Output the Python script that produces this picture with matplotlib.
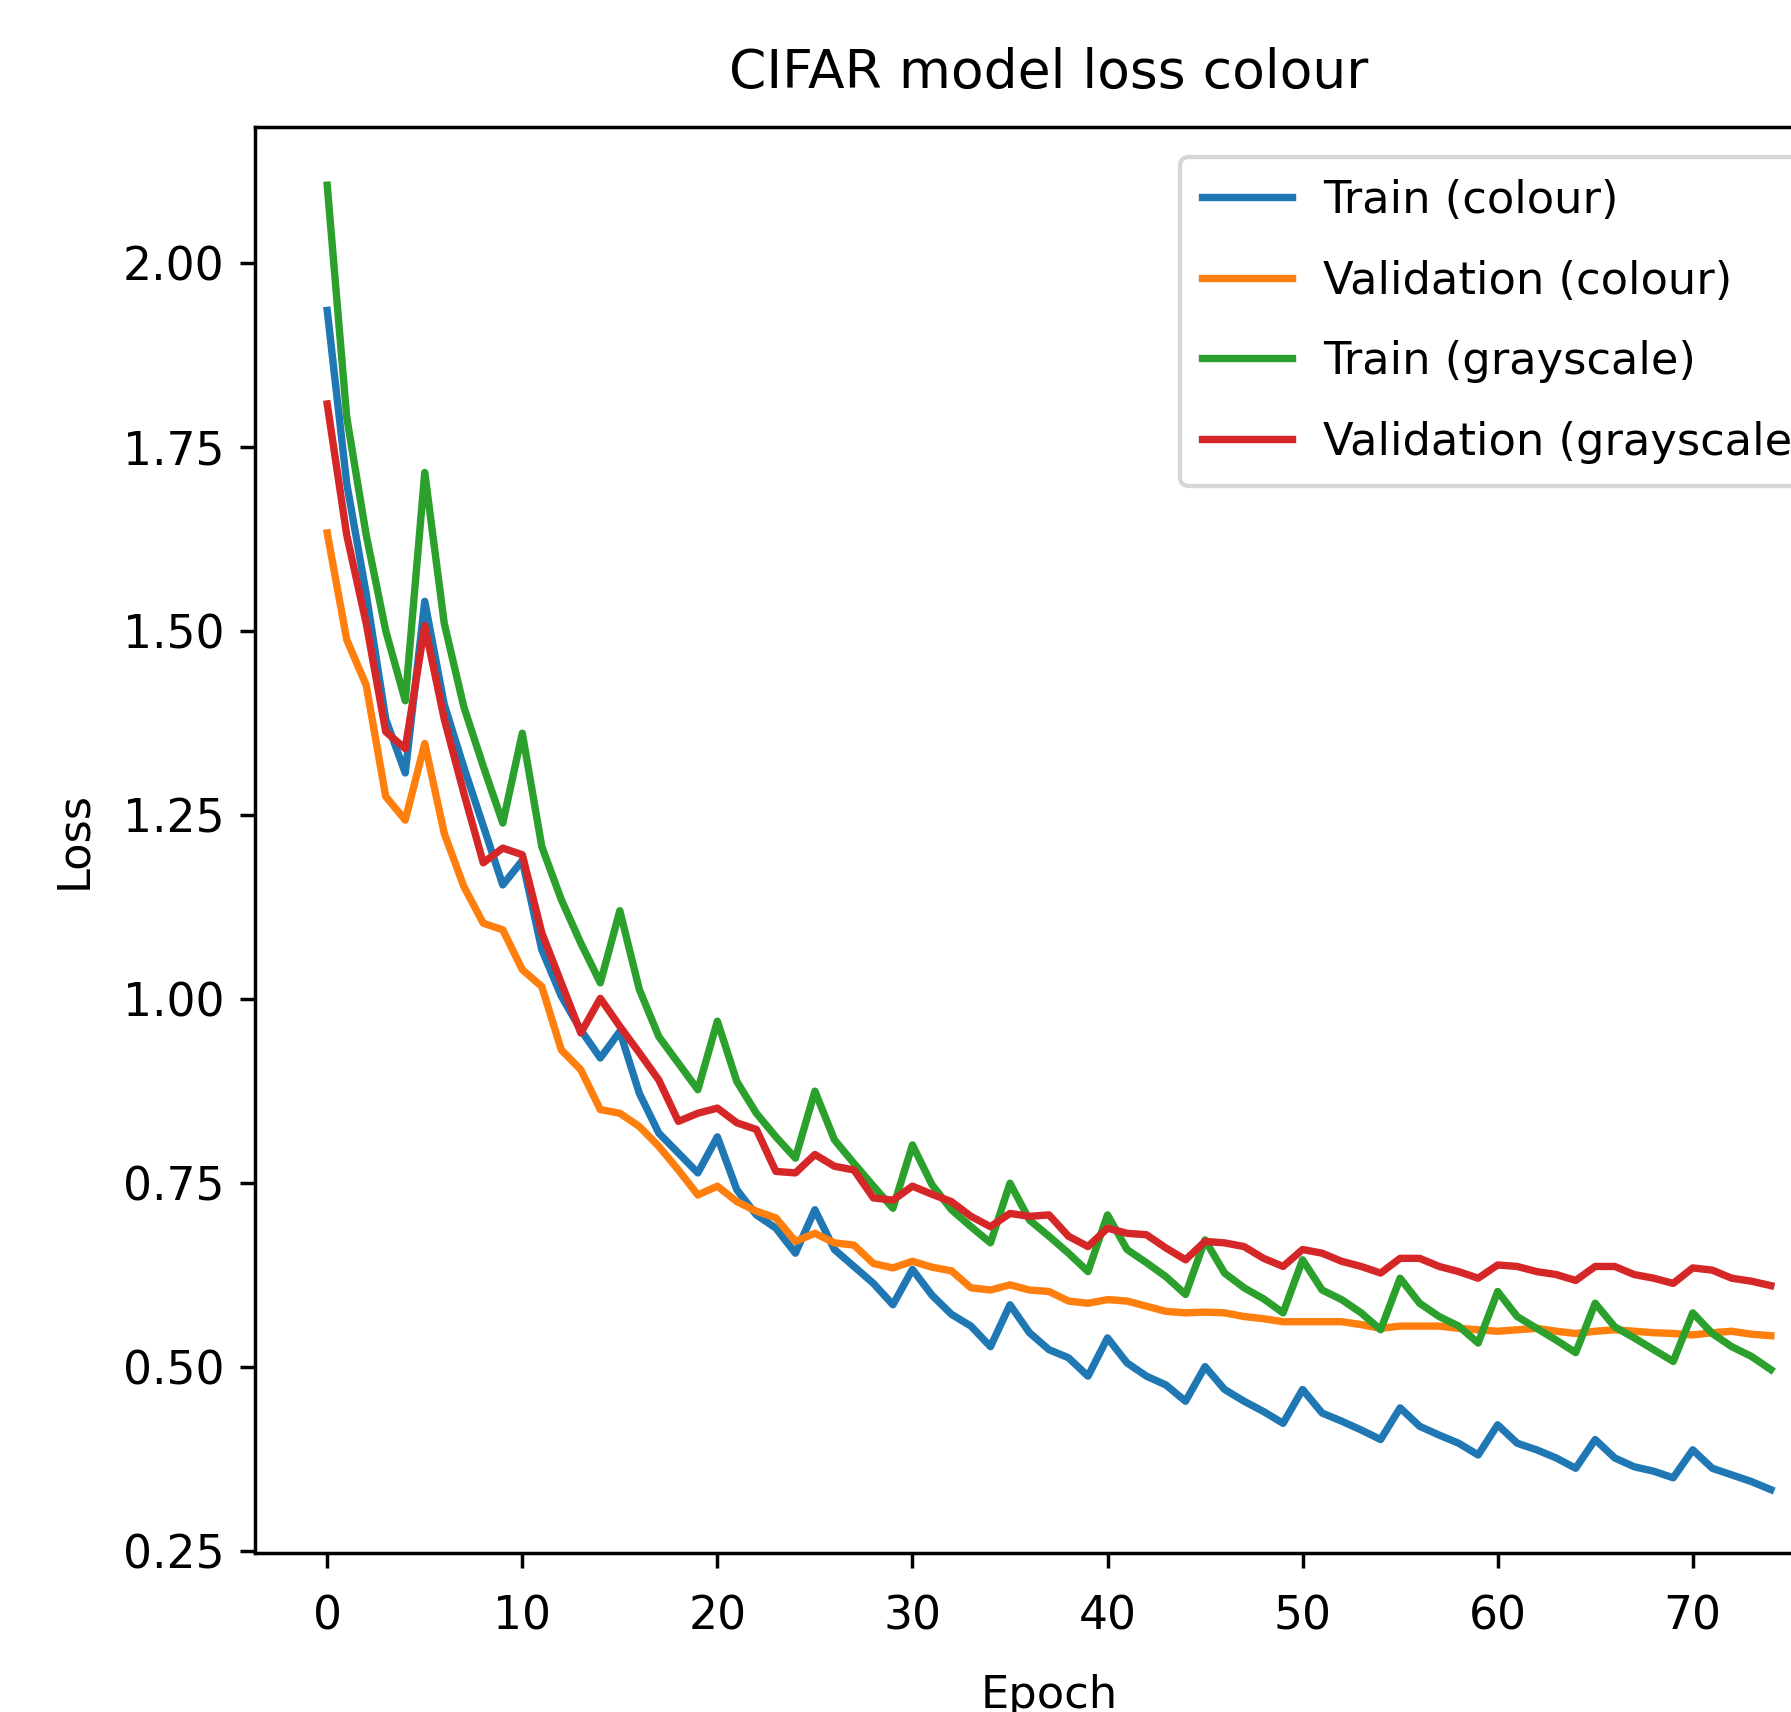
import matplotlib
matplotlib.use("Agg")
import matplotlib.pyplot as plt

# loss per epoch
epochs = list(range(75))

train_colour = [
    1.935, 1.70, 1.55, 1.38, 1.307, 1.54, 1.40, 1.315, 1.235, 1.155,
    1.188, 1.067, 1.004, 0.958, 0.920, 0.956,
    0.872, 0.818, 0.791, 0.764, 0.813, 0.741, 0.707, 0.689, 0.655, 0.714,
    0.660, 0.637, 0.614, 0.585, 0.633,
    0.598, 0.572, 0.556, 0.528, 0.585, 0.547, 0.524, 0.513, 0.488, 0.540,
    0.506, 0.488, 0.476, 0.454, 0.501, 0.470, 0.454,
    0.440, 0.424, 0.470, 0.438, 0.427, 0.415, 0.402, 0.445, 0.420, 0.408,
    0.397, 0.381, 0.422, 0.397, 0.388, 0.377,
    0.363, 0.402, 0.377, 0.365, 0.359, 0.350, 0.388, 0.363, 0.354, 0.345, 0.334,
]

val_colour = [
    1.633, 1.488, 1.426, 1.275, 1.243, 1.347, 1.225, 1.153, 1.103, 1.094,
    1.040, 1.017, 0.931, 0.904, 0.850, 0.845,
    0.827, 0.800, 0.768, 0.734, 0.746, 0.725, 0.712, 0.703, 0.671, 0.682,
    0.669, 0.666, 0.641, 0.635, 0.644,
    0.636, 0.631, 0.608, 0.605, 0.612, 0.605, 0.603, 0.590, 0.587, 0.592,
    0.590, 0.583, 0.576, 0.574, 0.575, 0.574, 0.569,
    0.566, 0.562, 0.562, 0.562, 0.562, 0.558, 0.553, 0.556, 0.556, 0.556,
    0.553, 0.551, 0.549, 0.551, 0.553, 0.549,
    0.546, 0.549, 0.551, 0.549, 0.547, 0.546, 0.544, 0.547, 0.549, 0.545, 0.543,
]

train_gray = [
    2.105, 1.79, 1.63, 1.50, 1.405, 1.715, 1.51, 1.397, 1.316, 1.239,
    1.361, 1.207, 1.135, 1.076, 1.022, 1.12,
    1.013, 0.949, 0.913, 0.877, 0.970, 0.888, 0.845, 0.813, 0.784, 0.875,
    0.809, 0.777, 0.746, 0.716, 0.802,
    0.748, 0.714, 0.691, 0.669, 0.750, 0.700, 0.678, 0.655, 0.630, 0.707,
    0.660, 0.642, 0.623, 0.599, 0.673, 0.628, 0.608,
    0.593, 0.574, 0.646, 0.605, 0.592, 0.574, 0.551, 0.621, 0.587, 0.569,
    0.556, 0.533, 0.603, 0.569, 0.553, 0.537,
    0.520, 0.587, 0.555, 0.540, 0.524, 0.508, 0.574, 0.546, 0.528, 0.515, 0.497,
]

val_gray = [
    1.808, 1.63, 1.51, 1.363, 1.340, 1.507, 1.38, 1.28, 1.185, 1.205,
    1.196, 1.09, 1.022, 0.954, 1.001, 0.963,
    0.927, 0.890, 0.834, 0.845, 0.852, 0.832, 0.823, 0.766, 0.764, 0.789,
    0.773, 0.768, 0.730, 0.727, 0.746,
    0.735, 0.725, 0.705, 0.691, 0.709, 0.705, 0.707, 0.678, 0.664, 0.689,
    0.682, 0.680, 0.662, 0.646, 0.671, 0.669, 0.664,
    0.648, 0.637, 0.660, 0.655, 0.644, 0.637, 0.628, 0.648, 0.648, 0.637,
    0.630, 0.621, 0.639, 0.637, 0.630, 0.626,
    0.618, 0.637, 0.637, 0.626, 0.621, 0.614, 0.635, 0.632, 0.621, 0.617, 0.611,
]

labels = ['Train (colour)', 'Validation (colour)',
          'Train (grayscale)', 'Validation (grayscale)']

DPI = 313
fig = plt.figure(figsize=(1791 / DPI, 1712 / DPI), dpi=DPI)
# the original picture is cropped on the right, so the axes run past the edge
ax = fig.add_axes([0.1424, 0.0929, 0.8866, 0.8329])

for series, lab in zip([train_colour, val_colour, train_gray, val_gray], labels):
    ax.plot(epochs, series, label=lab, lw=1.7)

ax.set_xlim(-3.7, 77.7)
ax.set_ylim(0.248, 2.184)
ax.tick_params(axis='both', labelsize=10.5)
ax.tick_params(axis='x', pad=6)
ax.set_title('CIFAR model loss colour', fontsize=12.3, pad=9)
ax.set_xlabel('Epoch', fontsize=10.3, labelpad=8)
ax.set_ylabel('Loss', fontsize=10.3, labelpad=6.5)
# legend pinned by its top-left corner, it runs off the right edge like the original
ax.legend(loc='upper left', bbox_to_anchor=(0.5825, 0.9793), borderaxespad=0,
          fontsize=10.3, labelspacing=0.84, borderpad=0.5, handletextpad=0.7)

fig.savefig('out.png', dpi=DPI)
